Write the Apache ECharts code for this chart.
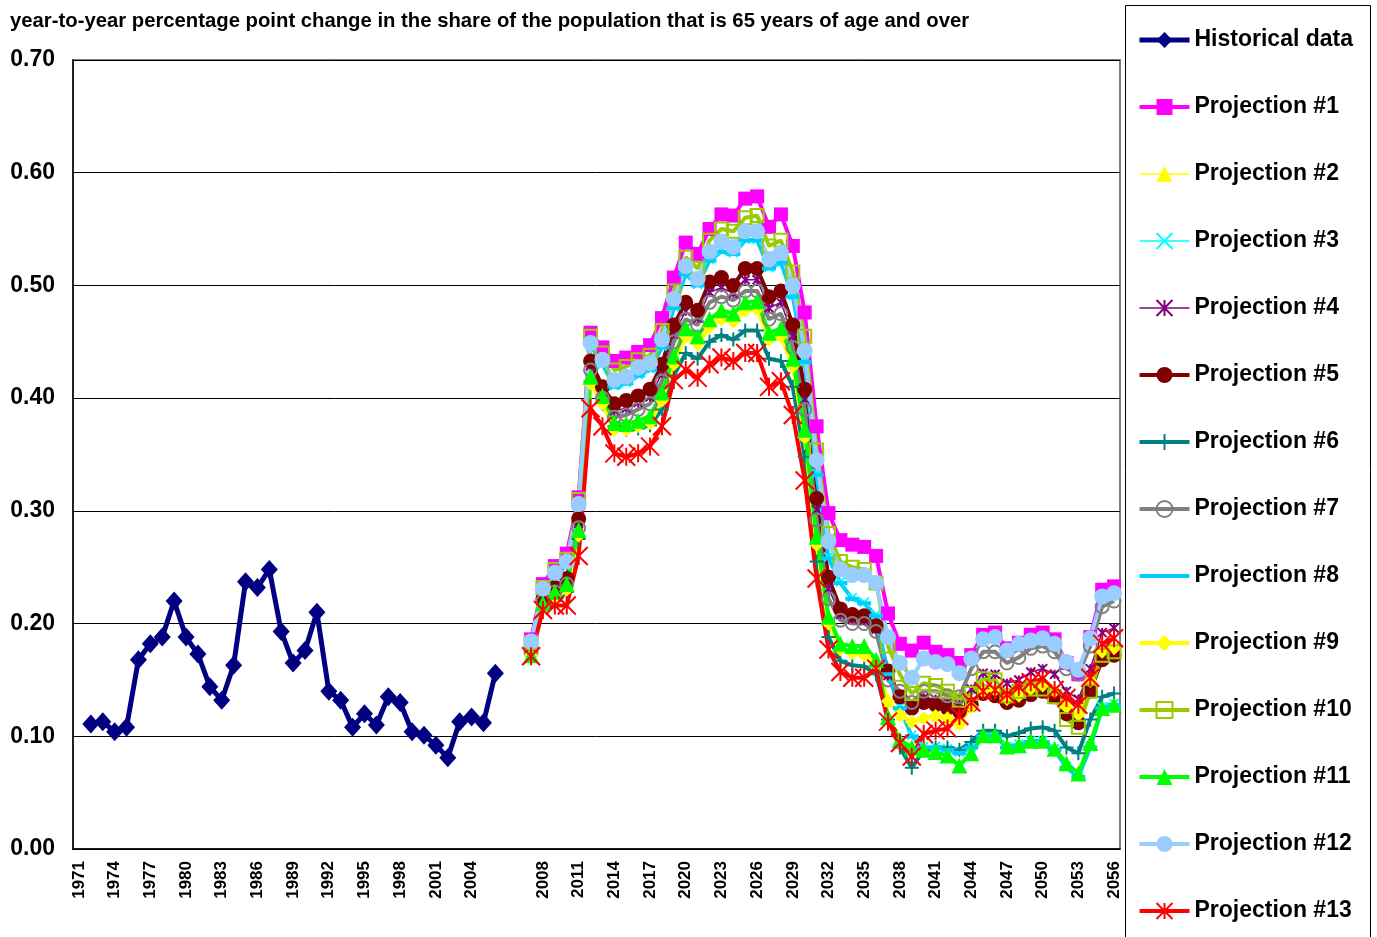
<!DOCTYPE html>
<html><head><meta charset="utf-8">
<script src="https://cdn.jsdelivr.net/npm/echarts@6/dist/echarts.min.js"></script>
<style>html,body{margin:0;padding:0;background:#fff}#c{width:1377px;height:937px}</style>
</head><body><div id="c"></div><script>
const categories = ['1971','1972','1973','1974','1975','1976','1977','1978','1979','1980','1981','1982','1983','1984','1985','1986','1987','1988','1989','1990','1991','1992','1993','1994','1995','1996','1997','1998','1999','2000','2001','2002','2003','2004','2005','2006','','',
'2007','2008','2009','2010','2011','2012','2013','2014','2015','2016','2017','2018','2019','2020','2021','2022','2023','2024','2025','2026','2027','2028','2029','2030','2031','2032','2033','2034','2035','2036','2037','2038','2039','2040','2041','2042','2043','2044','2045','2046','2047','2048','2049','2050','2051','2052','2053','2054','2055','2056'];

// 1971..2006
const historical = [null,0.111,0.113,0.104,0.108,0.168,0.182,0.188,0.220,0.188,0.173,0.144,0.132,0.163,0.237,0.232,0.248,0.193,0.165,0.176,0.210,0.140,0.132,0.108,0.120,0.110,0.135,0.130,0.104,0.101,0.092,0.081,0.113,0.117,0.112,0.156];

// 2007..2056
const proj1 = [0.186,0.235,0.251,0.262,0.312, 0.458,0.445,0.433,0.436,0.441, 0.447,0.471,0.507,0.538,0.528, 0.550,0.563,0.562,0.577,0.579, 0.552,0.563,0.535,0.476,0.375, 0.298,0.274,0.270,0.268,0.260, 0.209,0.182,0.176,0.183,0.175, 0.172,0.165,0.172,0.190,0.192, 0.178,0.183,0.190,0.192,0.186, 0.165,0.155,0.188,0.230,0.233];
const proj2 = [0.172,0.216,0.224,0.231,0.279, 0.414,0.396,0.373,0.373,0.376, 0.379,0.399,0.431,0.456,0.449, 0.464,0.471,0.469,0.479,0.480, 0.453,0.456,0.429,0.366,0.271, 0.201,0.178,0.175,0.173,0.165, 0.130,0.118,0.112,0.116,0.117, 0.115,0.110,0.125,0.140,0.140, 0.132,0.135,0.142,0.145,0.140, 0.125,0.118,0.148,0.175,0.178];
const proj3 = [0.182,0.229,0.243,0.253,0.304, 0.446,0.430,0.411,0.414,0.421, 0.426,0.446,0.481,0.511,0.501, 0.523,0.531,0.529,0.541,0.541, 0.516,0.521,0.491,0.433,0.333, 0.259,0.237,0.223,0.219,0.208, 0.156,0.126,0.101,0.091,0.091, 0.089,0.086,0.091,0.101,0.101, 0.091,0.093,0.096,0.096,0.089, 0.073,0.065,0.091,0.126,0.129];
const proj4 = [0.176,0.221,0.230,0.237,0.289, 0.429,0.405,0.389,0.391,0.396, 0.401,0.422,0.457,0.477,0.471, 0.494,0.498,0.493,0.505,0.505, 0.480,0.485,0.455,0.399,0.301, 0.231,0.208,0.204,0.203,0.195, 0.154,0.137,0.127,0.134,0.133, 0.130,0.128,0.142,0.156,0.155, 0.147,0.150,0.157,0.160,0.155, 0.140,0.133,0.160,0.192,0.196];
const proj5 = [0.178,0.222,0.232,0.240,0.293, 0.433,0.410,0.395,0.398,0.402, 0.408,0.430,0.465,0.485,0.478, 0.503,0.507,0.500,0.515,0.515, 0.490,0.495,0.465,0.408,0.311, 0.241,0.213,0.208,0.207,0.198, 0.158,0.135,0.125,0.130,0.128, 0.125,0.122,0.128,0.138,0.136, 0.130,0.132,0.137,0.140,0.135, 0.120,0.112,0.140,0.168,0.172];
const proj6 = [0.172,0.215,0.220,0.228,0.275, 0.415,0.395,0.375,0.372,0.373, 0.376,0.390,0.420,0.440,0.435, 0.450,0.456,0.452,0.460,0.460, 0.435,0.433,0.410,0.348,0.255, 0.188,0.167,0.163,0.162,0.155, 0.115,0.090,0.072,0.088,0.090, 0.090,0.088,0.095,0.105,0.105, 0.100,0.103,0.107,0.108,0.105, 0.090,0.085,0.115,0.135,0.138];
const proj7 = [0.175,0.220,0.228,0.235,0.285, 0.425,0.400,0.383,0.385,0.390, 0.395,0.415,0.450,0.470,0.465, 0.485,0.490,0.487,0.495,0.495, 0.470,0.475,0.445,0.390,0.292, 0.222,0.203,0.200,0.200,0.193, 0.150,0.140,0.130,0.140,0.140, 0.136,0.135,0.160,0.175,0.175, 0.165,0.170,0.178,0.180,0.175, 0.160,0.155,0.180,0.215,0.220];
const proj8 = [0.182,0.228,0.242,0.252,0.303, 0.447,0.430,0.410,0.413,0.420, 0.425,0.445,0.480,0.510,0.500, 0.522,0.530,0.528,0.540,0.540, 0.515,0.520,0.490,0.432,0.332, 0.258,0.236,0.222,0.218,0.207, 0.155,0.125,0.100,0.090,0.090, 0.088,0.085,0.090,0.100,0.100, 0.090,0.092,0.095,0.095,0.088, 0.072,0.064,0.090,0.125,0.128];
const proj9 = [0.172,0.215,0.222,0.230,0.278, 0.413,0.395,0.372,0.372,0.375, 0.378,0.398,0.430,0.455,0.448, 0.463,0.470,0.468,0.478,0.479, 0.452,0.455,0.428,0.365,0.270, 0.200,0.177,0.174,0.172,0.164, 0.131,0.119,0.113,0.116,0.118, 0.116,0.111,0.126,0.140,0.141, 0.133,0.136,0.142,0.145,0.140, 0.126,0.119,0.149,0.175,0.178];
const proj10 = [0.183,0.232,0.248,0.257,0.310, 0.455,0.440,0.425,0.428,0.434, 0.438,0.460,0.495,0.525,0.515, 0.540,0.550,0.548,0.560,0.562, 0.535,0.540,0.512,0.455,0.354, 0.280,0.255,0.250,0.248,0.236, 0.180,0.155,0.138,0.147,0.145, 0.140,0.132,0.138,0.151,0.150, 0.136,0.140,0.142,0.142,0.135, 0.115,0.108,0.140,0.172,0.175];
const proj11 = [0.172,0.218,0.228,0.235,0.283, 0.419,0.402,0.378,0.377,0.380, 0.384,0.405,0.437,0.462,0.455, 0.470,0.478,0.475,0.485,0.486, 0.458,0.462,0.435,0.372,0.277, 0.206,0.182,0.180,0.180,0.168, 0.117,0.097,0.090,0.088,0.086, 0.083,0.074,0.085,0.101,0.101, 0.091,0.092,0.096,0.096,0.089, 0.076,0.067,0.094,0.125,0.128];
const proj12 = [0.184,0.231,0.245,0.255,0.306, 0.449,0.434,0.416,0.419,0.427, 0.431,0.452,0.488,0.517,0.506, 0.530,0.539,0.534,0.548,0.548, 0.523,0.529,0.500,0.442,0.345, 0.273,0.248,0.243,0.243,0.236, 0.188,0.165,0.152,0.169,0.166, 0.164,0.156,0.169,0.186,0.188, 0.176,0.182,0.185,0.187,0.182, 0.166,0.159,0.187,0.224,0.227];
const proj13 = [0.171,0.212,0.216,0.216,0.260, 0.391,0.375,0.351,0.348,0.351, 0.357,0.375,0.416,0.425,0.418, 0.430,0.436,0.433,0.440,0.440, 0.410,0.415,0.385,0.327,0.240, 0.177,0.157,0.152,0.152,0.160, 0.113,0.094,0.082,0.102,0.105, 0.107,0.118,0.130,0.140,0.141, 0.137,0.144,0.148,0.151,0.141, 0.134,0.128,0.152,0.182,0.187];

const seriesNames = ['Historical data','Projection #1','Projection #2','Projection #3','Projection #4','Projection #5','Projection #6','Projection #7','Projection #8','Projection #9','Projection #10','Projection #11','Projection #12','Projection #13'];
const projections = [proj1,proj2,proj3,proj4,proj5,proj6,proj7,proj8,proj9,proj10,proj11,proj12,proj13];

const FONT = "'Liberation Sans', Arial, sans-serif";
const nCat = categories.length;
const histData = historical.concat(new Array(nCat - historical.length).fill(null));
const projData = v => new Array(nCat - v.length).fill(null).concat(v);

const PLUS = 'path://M5,0L5,10M0,5L10,5';
const XS = 'path://M0,0L10,10M10,0L0,10';
const AST = 'path://M0,0L10,10M10,0L0,10M5,0L5,10';

// style per projection
const styles = [
  {c:'#FF00FF', w:4, sym:'rect', size:14, fill:'#FF00FF'},
  {c:'#FFFF00', w:1.5, sym:'triangle', size:9, fill:'#FFFF00'},
  {c:'#00FFFF', w:1.5, sym:XS, size:9, fill:'none', stroke:2},
  {c:'#800080', w:1.5, sym:AST, size:9, fill:'none', stroke:2},
  {c:'#800000', w:4, sym:'circle', size:15, fill:'#800000'},
  {c:'#008080', w:4, sym:PLUS, size:14, fill:'none', stroke:2},
  {c:'#808080', w:4, sym:'circle', size:13, fill:'rgba(255,255,255,0)', stroke:2},
  {c:'#00CCFF', w:4, sym:'rect', size:[14,4], fill:'#00CCFF'},
  {c:'#FFFF00', w:4, sym:'diamond', size:14, fill:'#FFFF00'},
  {c:'#99CC00', w:4, sym:'rect', size:13, fill:'rgba(255,255,255,0)', stroke:2},
  {c:'#00FF00', w:4, sym:'triangle', size:16, fill:'#00FF00'},
  {c:'#99CCFF', w:4, sym:'circle', size:16, fill:'#99CCFF'},
  {c:'#FF0000', w:4, sym:AST, size:18, fill:'none', stroke:2}
];

const series = [{
  name: seriesNames[0], type:'line', data: histData, symbol:'diamond', symbolSize:[17,19],
  showAllSymbol:true, connectNulls:false,
  lineStyle:{color:'#000080', width:5}, itemStyle:{color:'#000080'}
}];
projections.forEach((p, k) => {
  const s = styles[k];
  const it = {color: s.fill === 'none' ? 'rgba(0,0,0,0)' : s.fill};
  if (s.stroke) { it.borderColor = s.c; it.borderWidth = s.stroke; }
  series.push({
    name: seriesNames[k+1], type:'line', data: projData(p), symbol: s.sym, symbolSize: s.size,
    showAllSymbol:true, connectNulls:false,
    lineStyle:{color:s.c, width:s.w}, itemStyle:it
  });
});

const legendData = seriesNames.map(n => n === 'Projection #8'
  ? {name:n, itemStyle:{color:'rgba(0,0,0,0)', borderWidth:0}} : {name:n});

const chart = echarts.init(document.getElementById('c'), null, {renderer:'canvas'});
chart.setOption({
  animation:false,
  backgroundColor:'#fff',
  title:{text:'year-to-year percentage point change in the share of the population that is 65 years of age and over',
    left:10, top:11, padding:0, textStyle:{fontFamily:FONT, fontWeight:'bold', fontSize:20.3, color:'#000'}},
  graphic:[{type:'rect', left:1125, top:5, z:0, silent:true,
    shape:{width:245, height:960}, style:{fill:'#fff', stroke:'#000', lineWidth:1}}],
  legend:{orient:'vertical', left:1125, top:5, itemWidth:50, itemHeight:20, itemGap:43,
    padding:[23,7,3,12], borderWidth:0, z:10,
    lineStyle:{width:'inherit'},
    textStyle:{fontFamily:FONT, fontWeight:'bold', fontSize:23, lineHeight:24, color:'#000'},
    data: legendData},
  grid:{left:73, right:257, top:60, bottom:88, show:true, borderColor:'#808080', borderWidth:2, backgroundColor:'#fff'},
  xAxis:{type:'category', data:categories, boundaryGap:true,
    axisLine:{lineStyle:{color:'#000', width:1.5}},
    axisTick:{inside:true, length:5, interval:0, alignWithLabel:false, lineStyle:{color:'#000'}},
    axisLabel:{interval:2, rotate:90, margin:12, fontFamily:FONT, fontWeight:'bold', fontSize:17, color:'#000'},
    splitLine:{show:false}},
  yAxis:{type:'value', min:0, max:0.7, interval:0.1,
    axisLine:{show:true, lineStyle:{color:'#000', width:1.5}},
    axisTick:{show:false},
    axisLabel:{margin:18, fontFamily:FONT, fontWeight:'bold', fontSize:23, color:'#000', formatter:v=>v.toFixed(2)},
    splitLine:{lineStyle:{color:'#000', width:1}}},
  series: series
});
</script></body></html>
